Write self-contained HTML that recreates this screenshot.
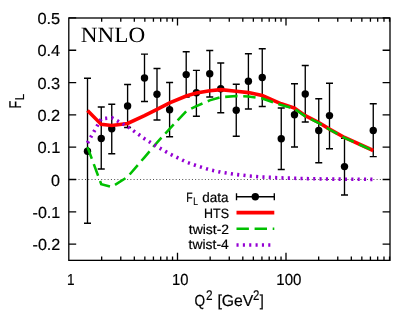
<!DOCTYPE html>
<html><head><meta charset="utf-8"><title>FL</title>
<style>html,body{margin:0;padding:0;background:#fff;overflow:hidden}svg{display:block;will-change:transform}</style></head>
<body>
<svg width="415" height="332" viewBox="0 0 415 332" text-rendering="geometricPrecision">
<rect width="415" height="332" fill="#fff"/>
<line x1="68.8" y1="179.5" x2="390.0" y2="179.5" stroke="#000" stroke-width="1" stroke-dasharray="1,2.24" opacity="0.7"/>
<path d="M68.8,17.95h7.4 M390.0,17.95h-7.4 M68.8,50.26h7.4 M390.0,50.26h-7.4 M68.8,82.57h7.4 M390.0,82.57h-7.4 M68.8,114.88h7.4 M390.0,114.88h-7.4 M68.8,147.19h7.4 M390.0,147.19h-7.4 M68.8,179.50h7.4 M390.0,179.50h-7.4 M68.8,211.81h7.4 M390.0,211.81h-7.4 M68.8,244.12h7.4 M390.0,244.12h-7.4 M101.66,260.35v-3.8 M101.66,18.0v3.8 M120.77,260.35v-3.8 M120.77,18.0v3.8 M134.32,260.35v-3.8 M134.32,18.0v3.8 M144.84,260.35v-3.8 M144.84,18.0v3.8 M153.43,260.35v-3.8 M153.43,18.0v3.8 M160.69,260.35v-3.8 M160.69,18.0v3.8 M166.99,260.35v-3.8 M166.99,18.0v3.8 M172.54,260.35v-3.8 M172.54,18.0v3.8 M177.50,260.35v-7.5 M177.50,18.0v7.5 M210.16,260.35v-3.8 M210.16,18.0v3.8 M229.27,260.35v-3.8 M229.27,18.0v3.8 M242.82,260.35v-3.8 M242.82,18.0v3.8 M253.34,260.35v-3.8 M253.34,18.0v3.8 M261.93,260.35v-3.8 M261.93,18.0v3.8 M269.19,260.35v-3.8 M269.19,18.0v3.8 M275.49,260.35v-3.8 M275.49,18.0v3.8 M281.04,260.35v-3.8 M281.04,18.0v3.8 M286.00,260.35v-7.5 M286.00,18.0v7.5 M318.66,260.35v-3.8 M318.66,18.0v3.8 M337.77,260.35v-3.8 M337.77,18.0v3.8 M351.32,260.35v-3.8 M351.32,18.0v3.8 M361.84,260.35v-3.8 M361.84,18.0v3.8 M370.43,260.35v-3.8 M370.43,18.0v3.8 M377.69,260.35v-3.8 M377.69,18.0v3.8 M383.99,260.35v-3.8 M383.99,18.0v3.8 M389.54,260.35v-3.8 M389.54,18.0v3.8" stroke="#000" stroke-width="1.3" fill="none"/>
<path d="M87.5,78.25V223.25 M84.0,78.25h7 M84.0,223.25h7 M101.25,107V169 M97.75,107h7 M97.75,169h7 M111.75,104.25V153.75 M108.25,104.25h7 M108.25,153.75h7 M127.6,84.5V127.5 M124.1,84.5h7 M124.1,127.5h7 M144.5,54.1V101.5 M141.0,54.1h7 M141.0,101.5h7 M157,68.5V120 M153.5,68.5h7 M153.5,120h7 M169.6,82.5V136.75 M166.1,82.5h7 M166.1,136.75h7 M186.2,51.75V97 M182.7,51.75h7 M182.7,97h7 M196.4,70.4V116.25 M192.9,70.4h7 M192.9,116.25h7 M209.75,50.5V97 M206.25,50.5h7 M206.25,97h7 M220.75,63V112.75 M217.25,63h7 M217.25,112.75h7 M236.25,84.25V136.25 M232.75,84.25h7 M232.75,136.25h7 M248.4,53.75V109 M244.9,53.75h7 M244.9,109h7 M262.25,48.75V106.5 M258.75,48.75h7 M258.75,106.5h7 M281.25,108V169.5 M277.75,108h7 M277.75,169.5h7 M294.5,83.75V147 M291.0,83.75h7 M291.0,147h7 M305.25,65.5V122 M301.75,65.5h7 M301.75,122h7 M318.75,98.75V162.75 M315.25,98.75h7 M315.25,162.75h7 M329.5,83.25V148.75 M326.0,83.25h7 M326.0,148.75h7 M344.5,138.25V195 M341.0,138.25h7 M341.0,195h7 M373.25,103.75V156.6 M369.75,103.75h7 M369.75,156.6h7" stroke="#000" stroke-width="1.35" fill="none"/>
<circle cx="87.5" cy="151.25" r="3.7" fill="#000"/>
<circle cx="101.25" cy="138.5" r="3.7" fill="#000"/>
<circle cx="111.75" cy="128.75" r="3.7" fill="#000"/>
<circle cx="127.6" cy="106" r="3.7" fill="#000"/>
<circle cx="144.5" cy="78" r="3.7" fill="#000"/>
<circle cx="157" cy="94.25" r="3.7" fill="#000"/>
<circle cx="169.6" cy="109.75" r="3.7" fill="#000"/>
<circle cx="186.2" cy="74.6" r="3.7" fill="#000"/>
<circle cx="196.4" cy="92.75" r="3.7" fill="#000"/>
<circle cx="209.75" cy="73.75" r="3.7" fill="#000"/>
<circle cx="220.75" cy="88.75" r="3.7" fill="#000"/>
<circle cx="236.25" cy="110.25" r="3.7" fill="#000"/>
<circle cx="248.4" cy="81.3" r="3.7" fill="#000"/>
<circle cx="262.25" cy="77.5" r="3.7" fill="#000"/>
<circle cx="281.25" cy="138.75" r="3.7" fill="#000"/>
<circle cx="294.5" cy="114.75" r="3.7" fill="#000"/>
<circle cx="305.25" cy="94" r="3.7" fill="#000"/>
<circle cx="318.75" cy="130.5" r="3.7" fill="#000"/>
<circle cx="329.5" cy="115.6" r="3.7" fill="#000"/>
<circle cx="344.5" cy="166.6" r="3.7" fill="#000"/>
<circle cx="373.25" cy="130.5" r="3.7" fill="#000"/>
<path d="M87.50,110.50 L101.25,124.40 L111.75,125.50 L127.60,123.50 L144.50,115.70 L157.00,109.30 L169.60,102.90 L186.20,96.00 L196.40,93.10 L209.75,90.70 L220.75,89.60 L236.25,91.20 L248.40,92.60 L262.25,95.50 L281.25,103.80 L294.50,108.10 L305.25,115.70 L318.75,122.50 L329.50,129.10 L344.50,137.50 L373.25,150.50" stroke="#ff0000" stroke-width="3.6" fill="none" stroke-linejoin="miter"/>
<path d="M87.50,147.10 L101.25,184.20 L111.75,187.00 L127.60,176.90 L144.50,157.30 L157.00,142.60 L169.60,128.80 L186.20,111.20 L196.40,106.10 L209.75,100.40 L220.75,97.20 L236.25,96.10 L248.40,96.50 L262.25,98.50 L281.25,105.00 L294.50,108.80 L305.25,116.30 L318.75,123.00 L329.50,129.50 L344.50,137.80 L373.25,150.70" stroke="#00c000" stroke-width="2.55" fill="none" stroke-dasharray="12.4,5.7" stroke-linejoin="miter"/>
<path d="M87.50,143.00 L101.25,118.80 L111.75,117.70 L127.60,126.60 L144.50,138.70 L157.00,146.60 L169.60,153.80 L186.20,162.00 L196.40,165.70 L209.75,169.80 L220.75,172.20 L236.25,174.50 L248.40,175.90 L262.25,177.00 L281.25,177.90 L294.50,178.30 L305.25,178.60 L318.75,178.90 L329.50,179.05 L344.50,179.20 L373.25,179.35" stroke="#9400d3" stroke-width="3.6" fill="none" stroke-dasharray="2.1,4.25" stroke-linejoin="miter"/>
<rect x="68.8" y="18.0" width="321.2" height="242.35000000000002" fill="none" stroke="#000" stroke-width="1.3"/>
<path d="M236.5,196.75H274.3 M236.5,193.25v7 M274.3,193.25v7" stroke="#000" stroke-width="1.35" fill="none"/>
<circle cx="255.3" cy="196.75" r="3.7" fill="#000"/>
<path d="M236.5,212.6H274.3" stroke="#ff0000" stroke-width="3.6"/>
<path d="M236.5,228.75H274.3" stroke="#00c000" stroke-width="2.55" stroke-dasharray="12.4,5.7"/>
<path d="M236.5,245H274.3" stroke="#9400d3" stroke-width="3.6" stroke-dasharray="2.1,4.25"/>
<text x="37.42" y="24.05" font-family="Liberation Sans, sans-serif" font-size="16.00px" textLength="22.79" lengthAdjust="spacingAndGlyphs" stroke="#000" stroke-width="0.2">0.5</text>
<text x="37.42" y="56.36" font-family="Liberation Sans, sans-serif" font-size="16.00px" textLength="22.71" lengthAdjust="spacingAndGlyphs" stroke="#000" stroke-width="0.2">0.4</text>
<text x="37.42" y="88.67" font-family="Liberation Sans, sans-serif" font-size="16.00px" textLength="22.73" lengthAdjust="spacingAndGlyphs" stroke="#000" stroke-width="0.2">0.3</text>
<text x="37.40" y="120.98" font-family="Liberation Sans, sans-serif" font-size="16.00px" textLength="22.77" lengthAdjust="spacingAndGlyphs" stroke="#000" stroke-width="0.2">0.2</text>
<text x="37.41" y="153.29" font-family="Liberation Sans, sans-serif" font-size="16.00px" textLength="22.89" lengthAdjust="spacingAndGlyphs" stroke="#000" stroke-width="0.2">0.1</text>
<text x="51.11" y="185.60" font-family="Liberation Sans, sans-serif" font-size="16.00px" textLength="8.95" lengthAdjust="spacingAndGlyphs" stroke="#000" stroke-width="0.2">0</text>
<text x="32.57" y="217.91" font-family="Liberation Sans, sans-serif" font-size="16.00px" textLength="27.63" lengthAdjust="spacingAndGlyphs" stroke="#000" stroke-width="0.2">-0.1</text>
<text x="32.56" y="250.22" font-family="Liberation Sans, sans-serif" font-size="16.00px" textLength="27.73" lengthAdjust="spacingAndGlyphs" stroke="#000" stroke-width="0.2">-0.2</text>
<text x="67.09" y="285.15" font-family="Liberation Sans, sans-serif" font-size="16.00px" textLength="7.57" lengthAdjust="spacingAndGlyphs" stroke="#000" stroke-width="0.2">1</text>
<text x="172.00" y="285.15" font-family="Liberation Sans, sans-serif" font-size="16.00px" textLength="16.40" lengthAdjust="spacingAndGlyphs" stroke="#000" stroke-width="0.2">10</text>
<text x="276.35" y="285.15" font-family="Liberation Sans, sans-serif" font-size="16.00px" textLength="25.10" lengthAdjust="spacingAndGlyphs" stroke="#000" stroke-width="0.2">100</text>
<text x="194.41" y="306.30" font-family="Liberation Sans, sans-serif" font-size="16.00px" textLength="10.58" lengthAdjust="spacingAndGlyphs" stroke="#000" stroke-width="0.2">Q</text>
<text x="206.03" y="300.45" font-family="Liberation Sans, sans-serif" font-size="14.00px" textLength="6.58" lengthAdjust="spacingAndGlyphs" stroke="#000" stroke-width="0.2">2</text>
<text x="217.46" y="306.30" font-family="Liberation Sans, sans-serif" font-size="16.00px" textLength="35.88" lengthAdjust="spacingAndGlyphs" stroke="#000" stroke-width="0.2">[GeV</text>
<text x="252.95" y="300.45" font-family="Liberation Sans, sans-serif" font-size="14.00px" textLength="6.38" lengthAdjust="spacingAndGlyphs" stroke="#000" stroke-width="0.2">2</text>
<text x="259.67" y="306.30" font-family="Liberation Sans, sans-serif" font-size="16.00px" textLength="4.04" lengthAdjust="spacingAndGlyphs" stroke="#000" stroke-width="0.2">]</text>
<text x="186.23" y="201.60" font-family="Liberation Sans, sans-serif" font-size="13.60px" textLength="6.37" lengthAdjust="spacingAndGlyphs" stroke="#000" stroke-width="0.2">F</text>
<text x="193.34" y="204.50" font-family="Liberation Sans, sans-serif" font-size="10.88px" textLength="4.70" lengthAdjust="spacingAndGlyphs" stroke="#000" stroke-width="0.2">L</text>
<text x="202.18" y="201.60" font-family="Liberation Sans, sans-serif" font-size="13.60px" textLength="26.20" lengthAdjust="spacingAndGlyphs" stroke="#000" stroke-width="0.2">data</text>
<text x="204.09" y="218.00" font-family="Liberation Sans, sans-serif" font-size="13.60px" textLength="24.87" lengthAdjust="spacingAndGlyphs" stroke="#000" stroke-width="0.2">HTS</text>
<text x="188.81" y="233.80" font-family="Liberation Sans, sans-serif" font-size="13.60px" textLength="40.29" lengthAdjust="spacingAndGlyphs" stroke="#000" stroke-width="0.2">twist-2</text>
<text x="188.61" y="249.30" font-family="Liberation Sans, sans-serif" font-size="13.60px" textLength="40.14" lengthAdjust="spacingAndGlyphs" stroke="#000" stroke-width="0.2">twist-4</text>
<text x="80.85" y="42.40" font-family="Liberation Serif, serif" font-size="21.80px" textLength="64.38" lengthAdjust="spacingAndGlyphs">NNLO</text>
<g transform="translate(20.55,108.4) rotate(-90)" font-family="Liberation Sans, sans-serif" stroke="#000" stroke-width="0.2"><text font-size="17px" textLength="7.7" lengthAdjust="spacingAndGlyphs">F</text><text x="8.1" y="3.45" font-size="12.8px" textLength="6.5" lengthAdjust="spacingAndGlyphs">L</text></g>
</svg>
</body></html>
